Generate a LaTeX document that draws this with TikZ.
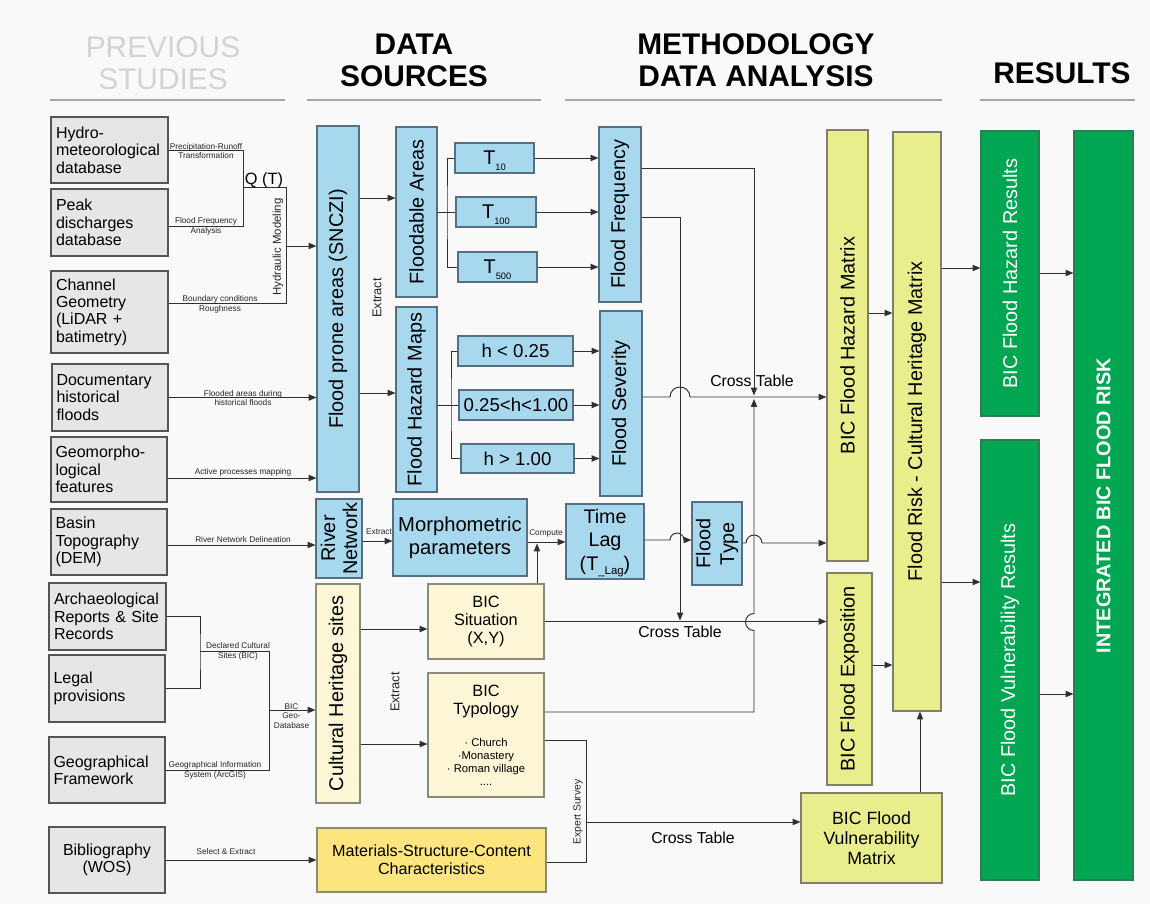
\documentclass[tikz,border=0pt]{standalone}
\usepackage{fontspec}
\setmainfont{Liberation Sans}
\usetikzlibrary{arrows.meta}
\definecolor{bg}{HTML}{F9F9F9}
\definecolor{gfill}{HTML}{E6E6E6}
\definecolor{gdraw}{HTML}{555555}
\definecolor{bfill}{HTML}{A8D8EE}
\definecolor{bdraw}{HTML}{566F82}
\definecolor{lyfill}{HTML}{FDF6D6}
\definecolor{lydraw}{HTML}{8A8A7A}
\definecolor{yfill}{HTML}{FCE47E}
\definecolor{ygfill}{HTML}{E9EE8C}
\definecolor{ygdraw}{HTML}{80806A}
\definecolor{grfill}{HTML}{00A651}
\definecolor{grdraw}{HTML}{2E7D4F}
\definecolor{lncol}{HTML}{303030}
\definecolor{hdrgray}{HTML}{D3D3D3}
\newcommand\fsz[2]{\fontsize{#1}{#2}\selectfont}
\newcommand\tsub[1]{\smash{\raisebox{-3.2pt}{\fsz{5.3}{6}#1}}}
% box by corners: style, name, x1, y1, x2, y2, text
\newcommand\bx[7]{\node[#1, minimum width={(#5-#3)*0.02cm}, minimum height={(#6-#4)*0.02cm}] (#2) at ({(#3+#5)/2},{(#4+#6)/2}) {#7};}
\tikzset{
 box/.style={inner sep=0pt, line width=0.6pt, align=center},
 gbox/.style={box, draw=gdraw, fill=gfill, font=\fsz{9.1}{9.9}, align=left, text width=2.14cm},
 bbox/.style={box, draw=bdraw, fill=bfill, font=\fsz{11.3}{12.3}},
 lybox/.style={box, draw=lydraw, fill=lyfill, font=\fsz{9.3}{10.5}},
 ybox/.style={box, draw=lydraw, fill=yfill, font=\fsz{9.2}{10.3}},
 ygbox/.style={box, draw=ygdraw, fill=ygfill, font=\fsz{11.3}{12.3}},
 grbox/.style={box, draw=grdraw, fill=grfill},
 rt/.style={rotate=90, font=\fsz{11.3}{12.3}, align=center},
 rtw/.style={rt, text=white},
 lbl/.style={font=\fsz{4.7}{5.6}, align=center, inner sep=0pt, text=black!85},
 ctab/.style={font=\fsz{9}{10}, inner sep=0pt},
 hdrb/.style={font=\fsz{17}{18.2}\bfseries, align=center},
 hdrl/.style={font=\fsz{17}{18.2}, align=center, text=hdrgray},
 ln/.style={draw=lncol, line width=0.55pt},
 arr/.style={ln, -{Triangle[length=4.5pt,width=3.6pt]}},
 uline/.style={draw=gray!70, line width=0.8pt},
}
\begin{document}
\begin{tikzpicture}[x=0.02cm,y=-0.02cm]
\fill[bg] (0,0) rectangle (1150,904);
\useasboundingbox (0,0) rectangle (1150,904);

% headers
\node[hdrl] (hps) at (163,63) {PREVIOUS\\STUDIES};
\node[hdrb] (hds) at (414,60) {DATA\\SOURCES};
\node[hdrb] (hdm) at (756,60) {METHODOLOGY\\DATA ANALYSIS};
\node[hdrb] (hres) at (1062,73) {RESULTS};
\draw[uline] (50,100) -- (285,100);
\draw[uline] (307,100) -- (541,100);
\draw[uline] (565,100) -- (942,100);
\draw[uline] (980,100) -- (1135,100);

% previous studies
\bx{gbox}{hydro}{51}{117}{168}{183}{Hydro-\\meteorological\\database}
\bx{gbox}{peak}{51}{189}{168}{256}{Peak\\discharges\\database}
\bx{gbox}{chan}{51}{271}{168}{353}{Channel\\Geometry\\(LiDAR +\\batimetry)}
\bx{gbox}{doc}{52}{364}{168}{431}{Documentary\\historical\\floods}
\bx{gbox}{geo}{51}{437}{167}{502}{Geomorpho-\\logical\\features}
\bx{gbox}{basin}{51}{509}{167}{575}{Basin\\Topography\\(DEM)}
\bx{gbox}{arch}{49}{583}{166}{650}{Archaeological\\Reports \& Site\\Records}
\bx{gbox}{legal}{49}{655}{165}{722}{Legal\\provisions}
\bx{gbox}{geog}{49}{737}{165}{803}{Geographical\\Framework}
\bx{gbox, align=center}{bib}{49}{827}{165}{893}{Bibliography\\(WOS)}

% blue
\bx{bbox, label={[rt]center:{Flood prone areas (SNCZI)}}}{sn}{317}{126}{359}{492}{}
\bx{bbox, label={[rt]center:{Floodable Areas}}}{fa}{396}{127}{437}{297}{}
\bx{bbox, label={[rt]center:{Flood Hazard Maps}}}{fhm}{396}{307}{437}{492}{}
\bx{bbox}{t10}{455}{143}{534}{173}{T\tsub{10}}
\bx{bbox}{t100}{456}{197}{536}{227}{T\tsub{100}}
\bx{bbox}{t500}{458}{252}{537}{282}{T\tsub{500}}
\bx{bbox, label={[rt]center:{Flood Frequency}}}{ff}{599}{127}{641}{302}{}
\bx{bbox, font=\fsz{10.6}{12}}{h1}{458}{336}{573}{366}{h < 0.25}
\bx{bbox, font=\fsz{10.6}{12}}{h2}{459}{390}{573}{420}{0.25<h<1.00}
\bx{bbox, font=\fsz{10.6}{12}}{h3}{461}{444}{574}{473}{h > 1.00}
\bx{bbox, label={[rt]center:{Flood Severity}}}{fs}{600}{311}{642}{496}{}
\bx{bbox, label={[rt, font=\fsz{11.3}{12.6}]center:{River\\Network}}}{rn}{316}{499}{362}{578}{}
\bx{bbox, font=\fsz{11.5}{13}}{mp}{393}{499}{527}{576}{Morphometric\\parameters}
\bx{bbox, font=\fsz{11.2}{13.4}}{tl}{566}{504}{644}{579}{Time\\Lag\\(T\smash{\raisebox{-2.5pt}{\fsz{6.5}{7}\_Lag}})}
\bx{bbox, label={[rt, font=\fsz{11.3}{13.5}]center:{Flood\\Type}}}{ft}{692}{502}{742}{585}{}

% cultural heritage
\bx{lybox, label={[rt]center:{Cultural Heritage sites}}}{chs}{316}{584}{360}{803}{}
\bx{lybox}{sit}{428}{584}{544}{659}{BIC\\Situation\\(X,Y)}
\bx{lybox}{typ}{428}{673}{544}{797}{BIC\\Typology\\[8pt]{\fsz{6.4}{7}· Church}\\[-3.2pt]{\fsz{6.4}{7}·Monastery}\\[-3.2pt]{\fsz{6.4}{7}· Roman village}\\[-3.2pt]{\fsz{6.4}{7}....}}
\bx{ybox}{mat}{317}{828}{546}{892}{Materials-Structure-Content\\Characteristics}

% matrices
\bx{ygbox, label={[rt]center:{BIC Flood Hazard Matrix}}}{bfhm}{827}{130}{868}{561}{}
\bx{ygbox, label={[rt]center:{Flood Risk - Cultural Heritage Matrix}}}{frc}{893}{132}{941}{711}{}
\bx{ygbox, label={[rt]center:{BIC Flood Exposition}}}{bfe}{827}{573}{872}{785}{}
\bx{ygbox, font=\fsz{10.1}{11.4}}{bfvm}{801}{793}{942}{883}{BIC Flood\\Vulnerability\\Matrix}

% results
\bx{grbox, label={[rtw]center:{BIC Flood Hazard Results}}}{bfhr}{981}{131}{1039}{416}{}
\bx{grbox, label={[rtw]center:{BIC Flood Vulnerability Results}}}{bfvr}{981}{440}{1039}{880}{}
\bx{grbox, label={[rtw, font=\fsz{11.3}{12.3}\bfseries]center:{INTEGRATED BIC FLOOD RISK}}}{ibfr}{1074}{131}{1133}{880}{}

% left connectors
\coordinate (qa) at (243,150);
\coordinate (qb) at (243,226);
\coordinate (qc) at (243,187);
\coordinate (qd) at (286,187);
\coordinate (qe) at (286,303);
\coordinate (qf) at (286,246);
\draw[ln] (hydro.east) -- (qa) -- (qb) -- (peak.east |- qb);
\draw[ln] (qc) -- (qd) -- (qe) -- (chan.east |- qe);
\draw[arr] (qf) -- (sn.west |- qf);
\node[lbl] (l1) at (206,151) {Precipitation-Runoff\\Transformation};
\node[lbl] (l2) at (206,226) {Flood Frequency\\Analysis};
\node[font=\fsz{9.3}{10}, inner sep=0pt] (l3) at (264,180) {Q (T)};
\node[lbl, font=\fsz{6.5}{7}, rotate=90] (l4) at (278,247) {Hydraulic Modeling};
\node[lbl] (l5) at (220,304) {Boundary conditions\\Roughness};
\draw[arr] (doc.east) -- (sn.west |- doc.east);
\node[lbl] (l6) at (243,398) {Flooded areas during\\historical floods};
\draw[arr] (geo.east |- 0,478) -- (sn.west |- 0,478);
\node[lbl] (l7) at (243,472.5) {Active processes mapping};
\draw[arr] (basin.east |- 0,545) -- (rn.west |- 0,545);
\node[lbl] (l8) at (243,539.5) {River Network Delineation};
\coordinate (cm) at (200,651);
\coordinate (cn) at (269,651);
\coordinate (co) at (269,710);
\draw[ln] (arch.east) -| (cm) |- (legal.east);
\draw[ln] (cm) -- (cn) |- (geog.east);
\draw[arr] (co) -- (chs.west |- co);
\node[lbl] (l9) at (238,651.5) {Declared Cultural\\Sites (BIC)};
\node[lbl] (l10) at (215,770.5) {Geographical Information\\System (ArcGIS)};
\node[lbl] (l11) at (291.5,716) {BIC\\Geo-\\Database};
\draw[arr] (bib.east) -- (mat.west |- bib.east);
\node[lbl] (l12) at (226,851.5) {Select \& Extract};

% flood data
\draw[arr] (sn.east |- 0,198) -- (fa.west |- 0,198);
\draw[arr] (sn.east |- 0,393) -- (fhm.west |- 0,393);
\node[lbl, font=\fsz{7.3}{8}, rotate=90] (l13) at (377,298) {Extract};
\coordinate (fab) at (447,212);
\draw[ln] (fa.east) -- (t100.west);
\draw[ln] (t10.west) -| (fab) |- (t500.west);
\draw[arr] (t10.east) -- (ff.west |- t10.east);
\draw[arr] (t100.east) -- (ff.west |- t100.east);
\draw[arr] (t500.east) -- (ff.west |- t500.east);
\coordinate (fhb) at (451,405);
\draw[ln] (fhm.east |- h2.west) -- (h2.west);
\draw[ln] (h1.west) -| (fhb) |- (h3.west);
\draw[arr] (h1.east) -- (fs.west |- h1.east);
\draw[arr] (h2.east) -- (fs.west |- h2.east);
\draw[arr] (h3.east) -- (fs.west |- h3.east);

% frequency outputs
\coordinate (v1t) at (754,168);
\coordinate (v1b) at (754,395.5);
\draw[arr] (ff.east |- v1t) -- (v1t) -- (v1b);
\coordinate (v2t) at (680,217);
\coordinate (v2b) at (680,620.5);
\draw[arr] (ff.east |- v2t) -- (v2t) -- (v2b);
\coordinate (hp1) at (670,397);
\draw[arr] (fs.east |- hp1) -- (hp1) arc[start angle=180,end angle=0,radius=0.2cm] -- (bfhm.west |- hp1);
\node[ctab] (ct1) at (752,381) {Cross Table};

% morphometry
\draw[arr] (rn.east |- 0,541) -- (mp.west |- 0,541);
\node[lbl] (l14) at (379,532) {Extract};
\draw[arr] (mp.east |- 0,542) -- (tl.west |- 0,542);
\node[lbl] (l15) at (546,533) {Compute};
\coordinate (cmp) at (537,543.5);
\draw[arr] (sit.north -| cmp) -- (cmp);
\coordinate (hp2) at (670,540);
\draw[arr] (tl.east |- hp2) -- (hp2) arc[start angle=180,end angle=0,radius=0.14cm] -- (ft.west |- hp2);
\coordinate (hp3) at (746,543);
\draw[arr] (ft.east |- hp3) -- (hp3) arc[start angle=180,end angle=0,radius=0.16cm] -- (bfhm.west |- hp3);

% cultural heritage connectors
\draw[arr] (chs.east |- 0,629) -- (sit.west |- 0,629);
\draw[arr] (chs.east |- 0,744) -- (typ.west |- 0,744);
\node[lbl, font=\fsz{7.3}{8}, rotate=90] (l16) at (395,692) {Extract};
\draw[arr] (sit.east) -- (bfe.west |- sit.east);
\node[ctab] (ct2) at (680,631.5) {Cross Table};
\coordinate (up0) at (754,712);
\coordinate (up1) at (754,630.5);
\coordinate (up2) at (754,399);
\draw[arr] (typ.east |- up0) -- (up0) -- (up1) arc[start angle=270,end angle=90,radius=0.17cm] -- (up2);
\coordinate (es1) at (586,740);
\coordinate (es2) at (586,862);
\coordinate (es3) at (586,822);
\draw[ln] (typ.east |- es1) -- (es1) -- (es2) -- (mat.east |- es2);
\draw[arr] (es3) -- (bfvm.west |- es3);
\node[lbl, font=\fsz{5.9}{6.5}, rotate=90] (l17) at (578,812) {Expert Survey};
\node[ctab] (ct3) at (693,838) {Cross Table};

% right side
\draw[arr] (bfhm.east |- 0,313) -- (frc.west |- 0,313);
\draw[arr] (bfe.east |- 0,665) -- (frc.west |- 0,665);
\coordinate (vx) at (920,0);
\draw[arr] (bfvm.north -| vx) -- (frc.south -| vx);
\draw[arr] (frc.east |- 0,268) -- (bfhr.west |- 0,268);
\draw[arr] (frc.east |- 0,582) -- (bfvr.west |- 0,582);
\draw[arr] (bfhr.east |- 0,273) -- (ibfr.west |- 0,273);
\draw[arr] (bfvr.east |- 0,694) -- (ibfr.west |- 0,694);
\end{tikzpicture}
\end{document}
